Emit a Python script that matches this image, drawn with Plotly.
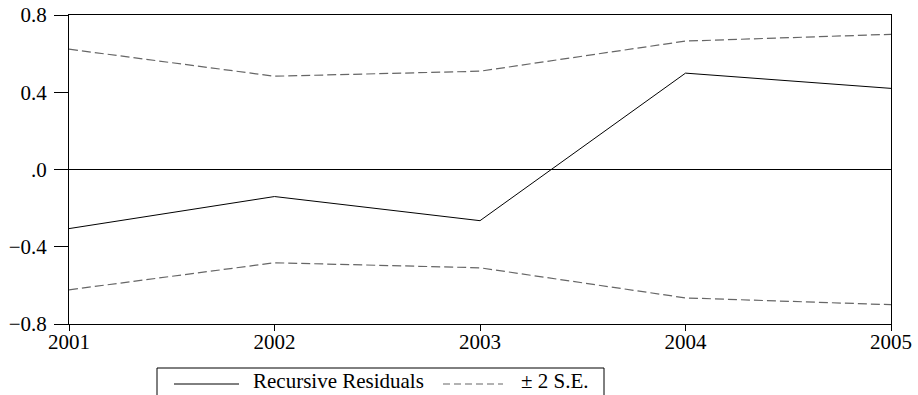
import plotly.graph_objects as go

years = [2001, 2002, 2003, 2004, 2005]
residuals = [-0.306, -0.14, -0.265, 0.499, 0.42]
upper_se = [0.623, 0.483, 0.509, 0.665, 0.70]
lower_se = [-0.623, -0.483, -0.509, -0.665, -0.70]
y_tickvals = [0.8, 0.4, 0.0, -0.4, -0.8]
y_ticktext = ["0.8", "0.4", ".0", "\u22120.4", "\u22120.8"]
x_ticktext = ["2001", "2002", "2003", "2004", "2005"]
legend_labels = ["Recursive Residuals", "\u00b1 2 S.E."]

FONT = "Liberation Serif, Times New Roman, Times, DejaVu Serif, serif"
FS = 21
SE_COLOR = "#666666"
SE_DASH = "9px,4px"

FW, FH = 918, 395
# plot area in pixels
L, R, T, B = 69, 891, 15, 324
W, H = R - L, B - T
def px(x):
    return (x - L) / W
def py(y):
    return (B - y) / H

fig = go.Figure()
fig.add_trace(go.Scatter(x=years, y=residuals, mode="lines", name=legend_labels[0],
                         line=dict(color="black", width=1), showlegend=False))
fig.add_trace(go.Scatter(x=years, y=upper_se, mode="lines", name=legend_labels[1],
                         line=dict(color=SE_COLOR, width=1.2, dash=SE_DASH), showlegend=False))
fig.add_trace(go.Scatter(x=years, y=lower_se, mode="lines", name=legend_labels[1],
                         line=dict(color=SE_COLOR, width=1.2, dash=SE_DASH), showlegend=False))

# zero line
fig.add_shape(type="line", xref="paper", yref="y", x0=0, x1=1, y0=0, y1=0,
              line=dict(color="black", width=1))

# manual legend box (open at the bottom, running off the figure)
bx0, bx1, by0, by1 = 157, 604, 368, 410
def seg(x0, y0, x1, y1, color="black", dash=None, width=1):
    line = dict(color=color, width=width)
    if dash:
        line["dash"] = dash
    fig.add_shape(type="line", xref="paper", yref="paper", x0=px(x0), x1=px(x1),
                  y0=py(y0), y1=py(y1), line=line)

seg(bx0, by0, bx1, by0)
seg(bx0, by0, bx0, by1)
seg(bx1, by0, bx1, by1)
seg(174, 384, 239, 384)
seg(443, 384, 503, 384, SE_COLOR, "7px,4px", 1.2)

fig.add_annotation(xref="paper", yref="paper", x=px(251), y=py(381), xanchor="left", yanchor="middle",
                   text=legend_labels[0], showarrow=False, font=dict(family=FONT, size=FS, color="black"))
fig.add_annotation(xref="paper", yref="paper", x=px(519), y=py(381), xanchor="left", yanchor="middle",
                   text=legend_labels[1], showarrow=False, font=dict(family=FONT, size=FS, color="black"))

fig.update_layout(
    width=FW, height=FH,
    margin=dict(l=L, r=FW - R, t=T, b=FH - B, autoexpand=False),
    paper_bgcolor="white", plot_bgcolor="white",
    font=dict(family=FONT, size=FS, color="black"),
    showlegend=False,
    xaxis=dict(range=[2001, 2005], tickvals=years, ticktext=x_ticktext, automargin=False,
               showgrid=False, zeroline=False, showline=True, linecolor="black", linewidth=1,
               mirror=True, ticks="outside", ticklen=6, tickcolor="black", ticklabelstandoff=-7,
               ticklabeloverflow="allow"),
    yaxis=dict(range=[-0.8, 0.8], tickvals=y_tickvals, ticktext=y_ticktext, automargin=False,
               showgrid=False, zeroline=False, showline=True, linecolor="black", linewidth=1,
               mirror=True, ticks="outside", ticklen=14, tickcolor="black", ticklabelstandoff=3,
               ticklabeloverflow="allow"),
)
fig.write_html("out.html", config={"displayModeBar": False},
               post_script="document.body.style.margin='0';document.body.style.overflow='hidden';")
